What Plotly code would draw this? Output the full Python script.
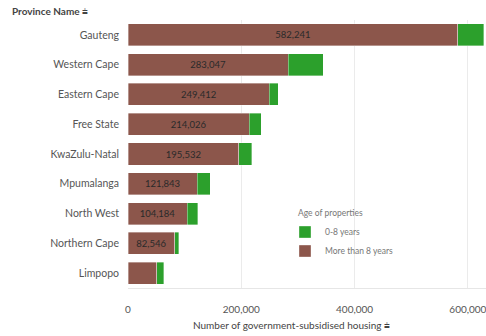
import plotly.graph_objects as go

provinces = ["Gauteng", "Western Cape", "Eastern Cape", "Free State", "KwaZulu-Natal",
             "Mpumalanga", "North West", "Northern Cape", "Limpopo"]
older = [582241, 283047, 249412, 214026, 195532, 121843, 104184, 82546, 51000]
newer = [46000, 62000, 16000, 21000, 23000, 23000, 19000, 7000, 12000]
older_labels = ["582,241", "283,047", "249,412", "214,026", "195,532",
                "121,843", "104,184", "82,546", ""]
tick_vals = [0, 200000, 400000, 600000]
tick_text = ["0", "200,000", "400,000", "600,000"]

FONT = "Lato"
BROWN = "#8c564b"
GREEN = "#2ca02c"
PLOT_W = 358
PLOT_H = 268

fig = go.Figure()
fig.add_trace(go.Bar(
    y=provinces, x=older, orientation="h", name="More than 8 years",
    marker=dict(color=BROWN, line=dict(color="rgba(255,255,255,0.6)", width=0.6)),
    text=older_labels, textposition="inside", insidetextanchor="middle",
    textfont=dict(family=FONT, size=9.5, color="#2a2a2a"),
    hoverinfo="x+y",
))
fig.add_trace(go.Bar(
    y=provinces, x=newer, orientation="h", name="0-8 years",
    marker=dict(color=GREEN, line=dict(color="rgba(255,255,255,0.6)", width=0.6)),
    hoverinfo="x+y",
))

fig.update_layout(
    width=486, height=336,
    margin=dict(l=128, r=0, t=20, b=48),
    barmode="stack", bargap=0.26,
    plot_bgcolor="white", paper_bgcolor="white",
    font=dict(family=FONT, size=9, color="#555555"),
    showlegend=True,
    legend=dict(
        traceorder="reversed", x=(285 - 128) / PLOT_W, y=0.263,
        xanchor="left", yanchor="top",
        font=dict(size=8.5, color="#777777"), bgcolor="rgba(0,0,0,0)",
        itemwidth=30, tracegroupgap=0,
    ),
    xaxis=dict(
        range=[0, 632000], tickvals=tick_vals, ticktext=tick_text,
        showgrid=True, gridcolor="#ebebeb", gridwidth=1, zeroline=False,
        showline=True, linecolor="#e6e6e6", ticks="", ticklabelstandoff=12,
        ticklabeloverflow="allow",
        tickfont=dict(size=10, color="#555555"),
        fixedrange=True,
    ),
    yaxis=dict(
        categoryorder="array", categoryarray=provinces, autorange="reversed",
        showgrid=False, zeroline=False, ticks="", ticklabelstandoff=8,
        tickfont=dict(size=10.5, color="#555555"), fixedrange=True,
    ),
    annotations=[
        dict(
            text="<b>Province Name</b> \u2A67", xref="paper", yref="paper",
            x=(10 - 128) / PLOT_W, y=1.0, xanchor="left", yanchor="bottom", yshift=1,
            showarrow=False, font=dict(size=10, color="#444444"),
        ),
        dict(
            text="Number of government-subsidised housing \u2A67",
            xref="paper", yref="paper",
            x=(291 - 128) / PLOT_W, y=0, xanchor="center", yanchor="middle",
            yshift=-37, showarrow=False, font=dict(size=10, color="#444444"),
        ),
        dict(
            text="Age of properties", xref="paper", yref="paper",
            x=(296 - 128) / PLOT_W, y=(288 - 213) / PLOT_H,
            xanchor="left", yanchor="middle", showarrow=False,
            font=dict(size=8.5, color="#777777"),
        ),
    ],
)

fig.write_html("out.html")
